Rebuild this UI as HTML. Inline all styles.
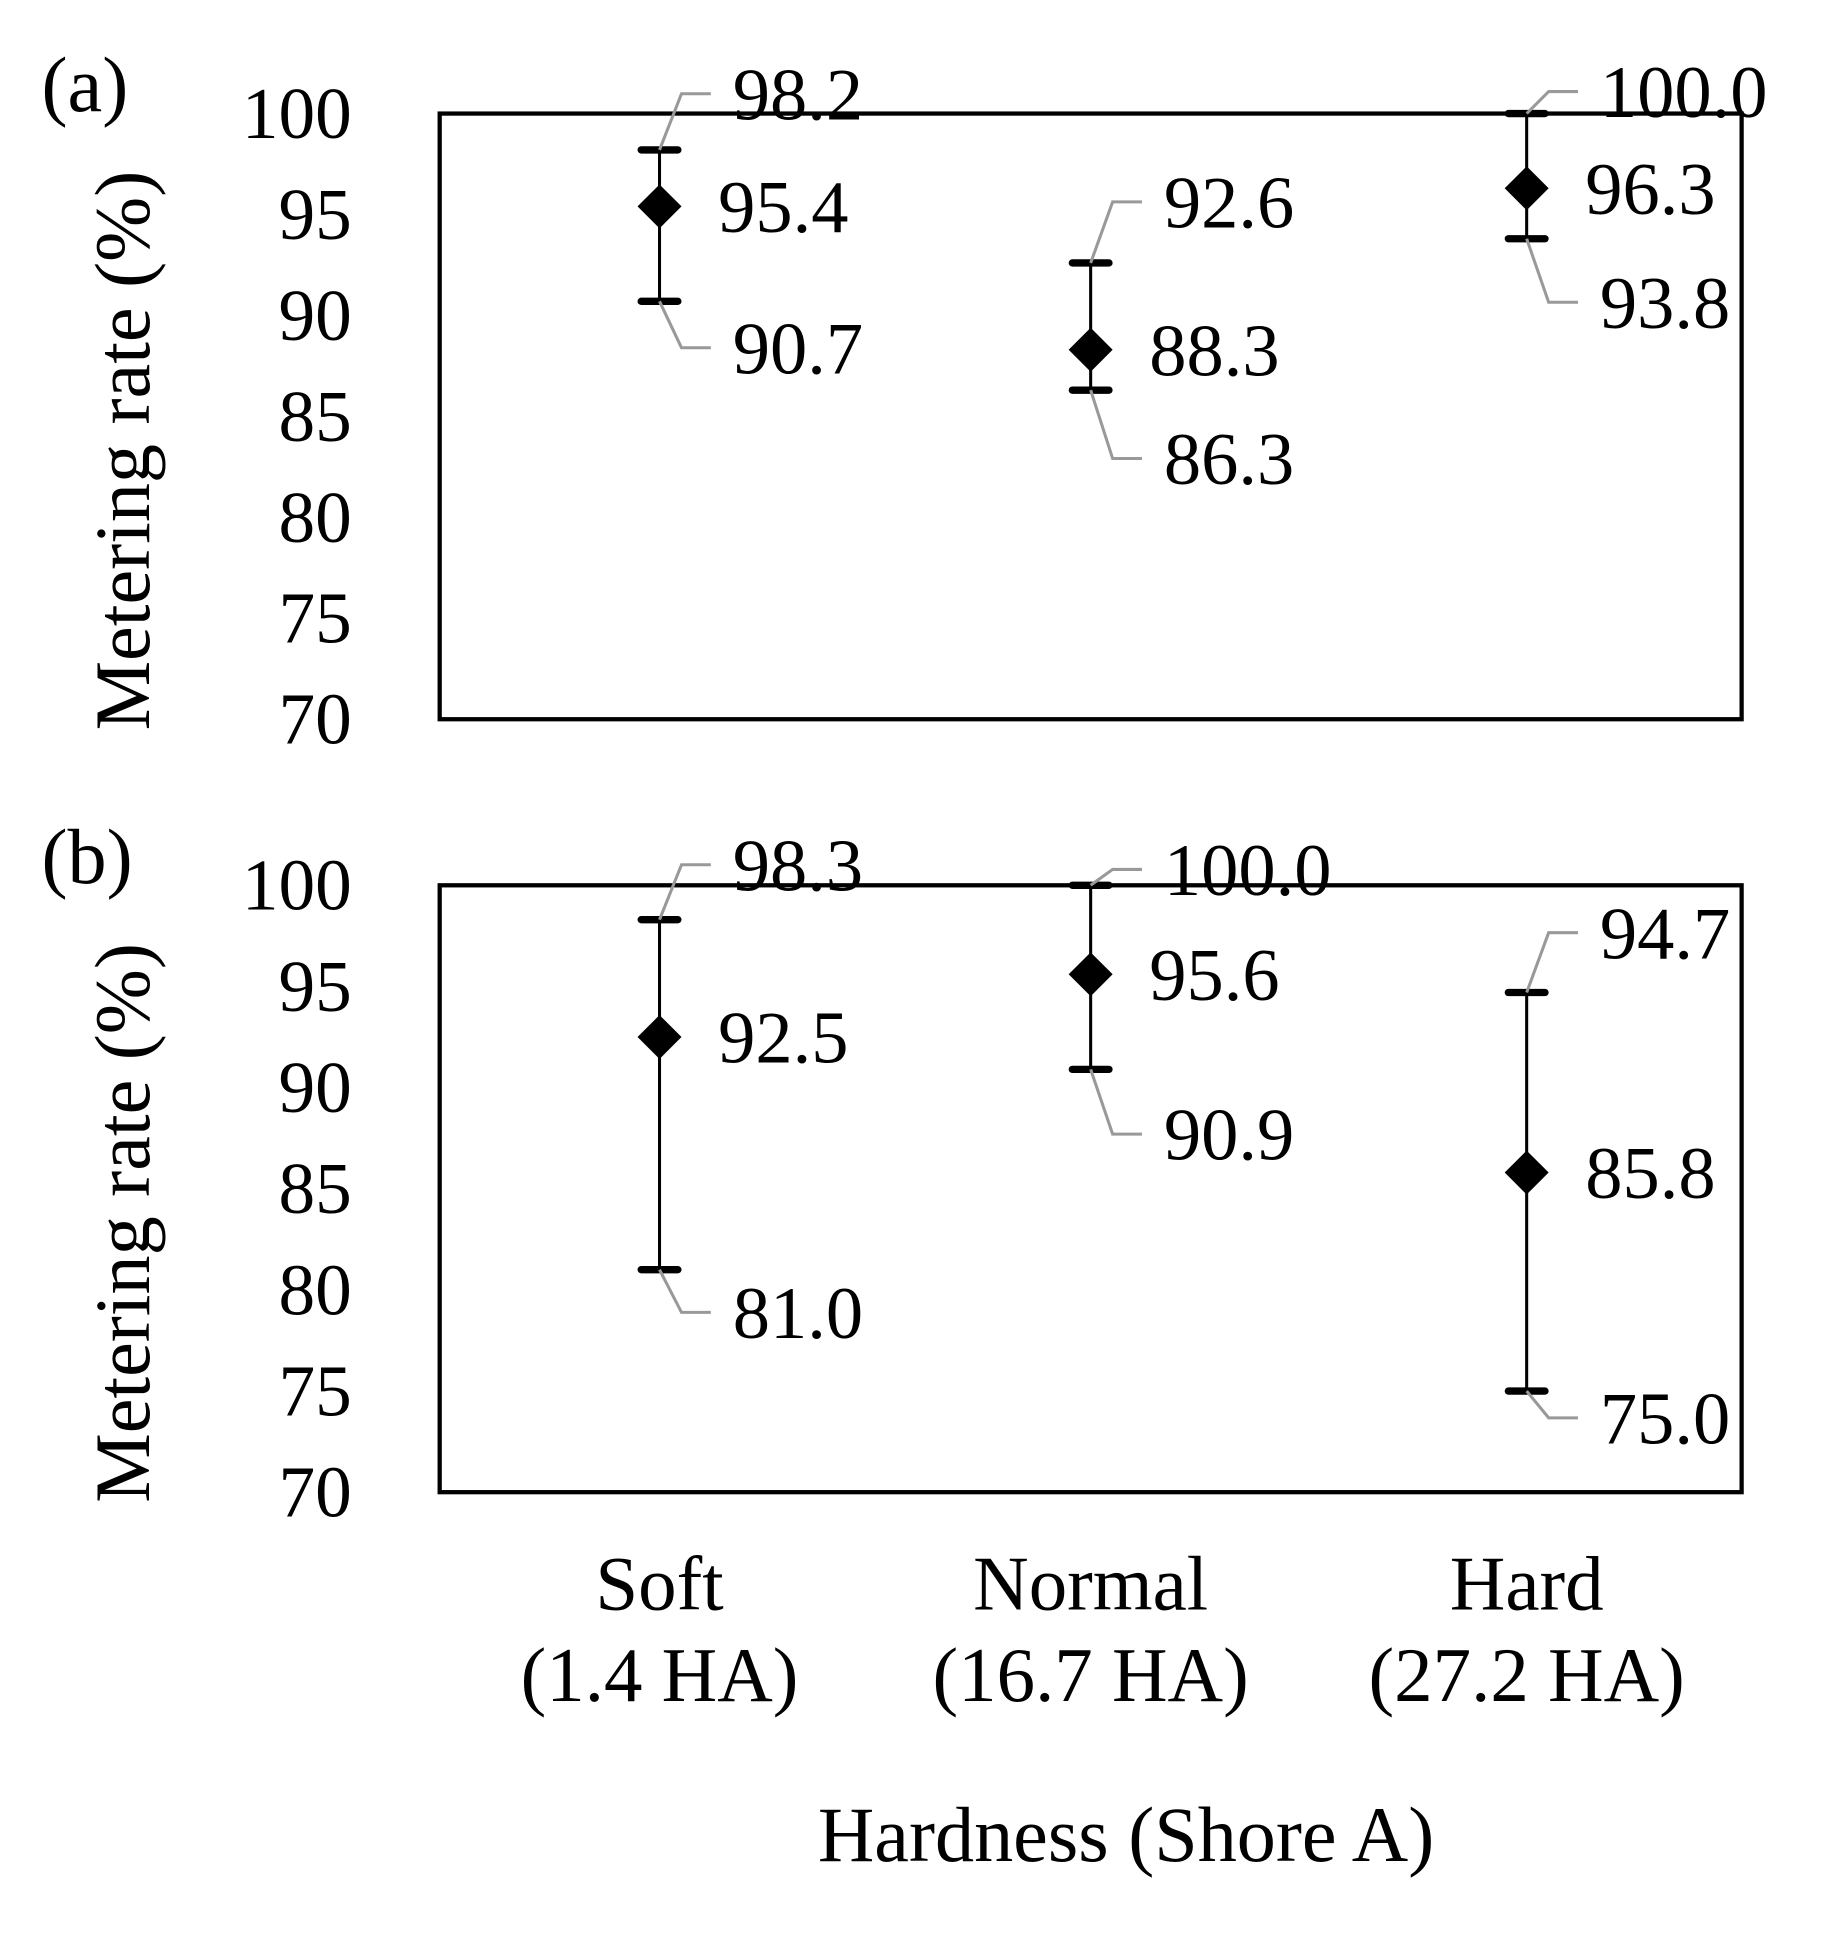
<!DOCTYPE html>
<html><head><meta charset="utf-8"><style>
html,body{margin:0;padding:0;background:#fff;}
svg{display:block;}
text{font-family:"Liberation Serif",serif;fill:#000;}
</style></head><body>
<svg id="chart" width="1832" height="1933" viewBox="0 0 1500 1583" preserveAspectRatio="none" xmlns="http://www.w3.org/2000/svg">
<rect width="1500" height="1583" fill="#fff"/>
</svg>
<script>
const categories = ["Soft", "Normal", "Hard"];
const catSub = ["(1.4 HA)", "(16.7 HA)", "(27.2 HA)"];
const yTicks = [70, 75, 80, 85, 90, 95, 100];
const meanA = [95.4, 88.3, 96.3];
const lowA = [90.7, 86.3, 93.8];
const highA = [98.2, 92.6, 100.0];
const meanB = [92.5, 95.6, 85.8];
const lowB = [81.0, 90.9, 75.0];
const highB = [98.3, 100.0, 94.7];

const svg = document.getElementById('chart');
const NS = 'http://www.w3.org/2000/svg';
function mk(tag, attrs, parent) {
  const e = document.createElementNS(NS, tag);
  for (const k in attrs) e.setAttribute(k, attrs[k]);
  (parent || svg).appendChild(e);
  return e;
}
const L = 360, R = 1426;
const xPos = [540, 893, 1250];
function xScale(i) { return xPos[i]; }

const panels = [
  {name: 'a', top: 93, bottom: 589, mean: meanA, low: lowA, high: highA,
   hiDy: [-46, -50, -18], loDy: [38, 56, 52]},
  {name: 'b', top: 725, bottom: 1222, mean: meanB, low: lowB, high: highB,
   hiDy: [-45, -13, -49], loDy: [35, 53, 22]}
];

panels.forEach(p => {
  const g = mk('g', {});
  
  
  const y = v => p.bottom - (v - 70) / 30 * (p.bottom - p.top);
  const frame = mk('rect', {x: L, y: p.top, width: R - L, height: p.bottom - p.top, fill: 'none', stroke: '#000', 'stroke-width': 3.5}, g);
  
  
  const pl = mk('text', {x: 34, y: p.top - 2, 'font-size': 64}, g);
  pl.textContent = '(' + p.name + ')';
  
  
  yTicks.forEach(t => {
    const tx = mk('text', {x: 288, y: y(t) + 20, 'font-size': 60, 'text-anchor': 'end'}, g);
    tx.textContent = t;
    
    
  });
  const cy = (p.top + p.bottom) / 2 + 28;
  const yt = mk('text', {x: 0, y: 0, 'font-size': 64, 'text-anchor': 'middle', transform: `translate(122,${cy}) rotate(-90)`}, g);
  yt.textContent = 'Metering rate (%)';
  
  

  categories.forEach((c, i) => {
    const x = xScale(i);
    const yh = y(p.high[i]), yl = y(p.low[i]), ym = y(p.mean[i]);
    const eb = mk('line', {x1: x, y1: yh, x2: x, y2: yl, stroke: '#000', 'stroke-width': 2.5}, g);
    
    
    [yh, yl].forEach(yy => {
      const cap = mk('line', {x1: x - 15, y1: yy, x2: x + 15, y2: yy, stroke: '#000', 'stroke-width': 6, 'stroke-linecap': 'round'}, g);
      
      
    });
    const d = mk('polygon', {points: `${x},${ym - 18} ${x + 18},${ym} ${x},${ym + 18} ${x - 18},${ym}`, fill: '#000'}, g);
    
    
    const mt = mk('text', {x: x + 48, y: ym + 21, 'font-size': 61}, g);
    mt.textContent = p.mean[i].toFixed(1);
    
    
    const hy = yh + p.hiDy[i];
    const hl = mk('polyline', {points: `${x},${yh} ${x + 18},${hy} ${x + 42},${hy}`, fill: 'none', stroke: '#999', 'stroke-width': 2.5}, g);
    
    
    const ht = mk('text', {x: x + 60, y: hy + 21, 'font-size': 61}, g);
    ht.textContent = p.high[i].toFixed(1);
    
    
    const ly = yl + p.loDy[i];
    const ll = mk('polyline', {points: `${x},${yl} ${x + 18},${ly} ${x + 42},${ly}`, fill: 'none', stroke: '#999', 'stroke-width': 2.5}, g);
    
    
    const lt = mk('text', {x: x + 60, y: ly + 21, 'font-size': 61}, g);
    lt.textContent = p.low[i].toFixed(1);
    
    
  });
});

categories.forEach((c, i) => {
  const t1 = mk('text', {x: xScale(i), y: 1318, 'font-size': 63, 'text-anchor': 'middle'});
  t1.textContent = c;
  
  
  const t2 = mk('text', {x: xScale(i), y: 1393, 'font-size': 63, 'text-anchor': 'middle'});
  t2.textContent = catSub[i];
  
  
});
const xt = mk('text', {x: 922, y: 1524, 'font-size': 64, 'text-anchor': 'middle'});
xt.textContent = 'Hardness (Shore A)';


</script>
</body></html>
